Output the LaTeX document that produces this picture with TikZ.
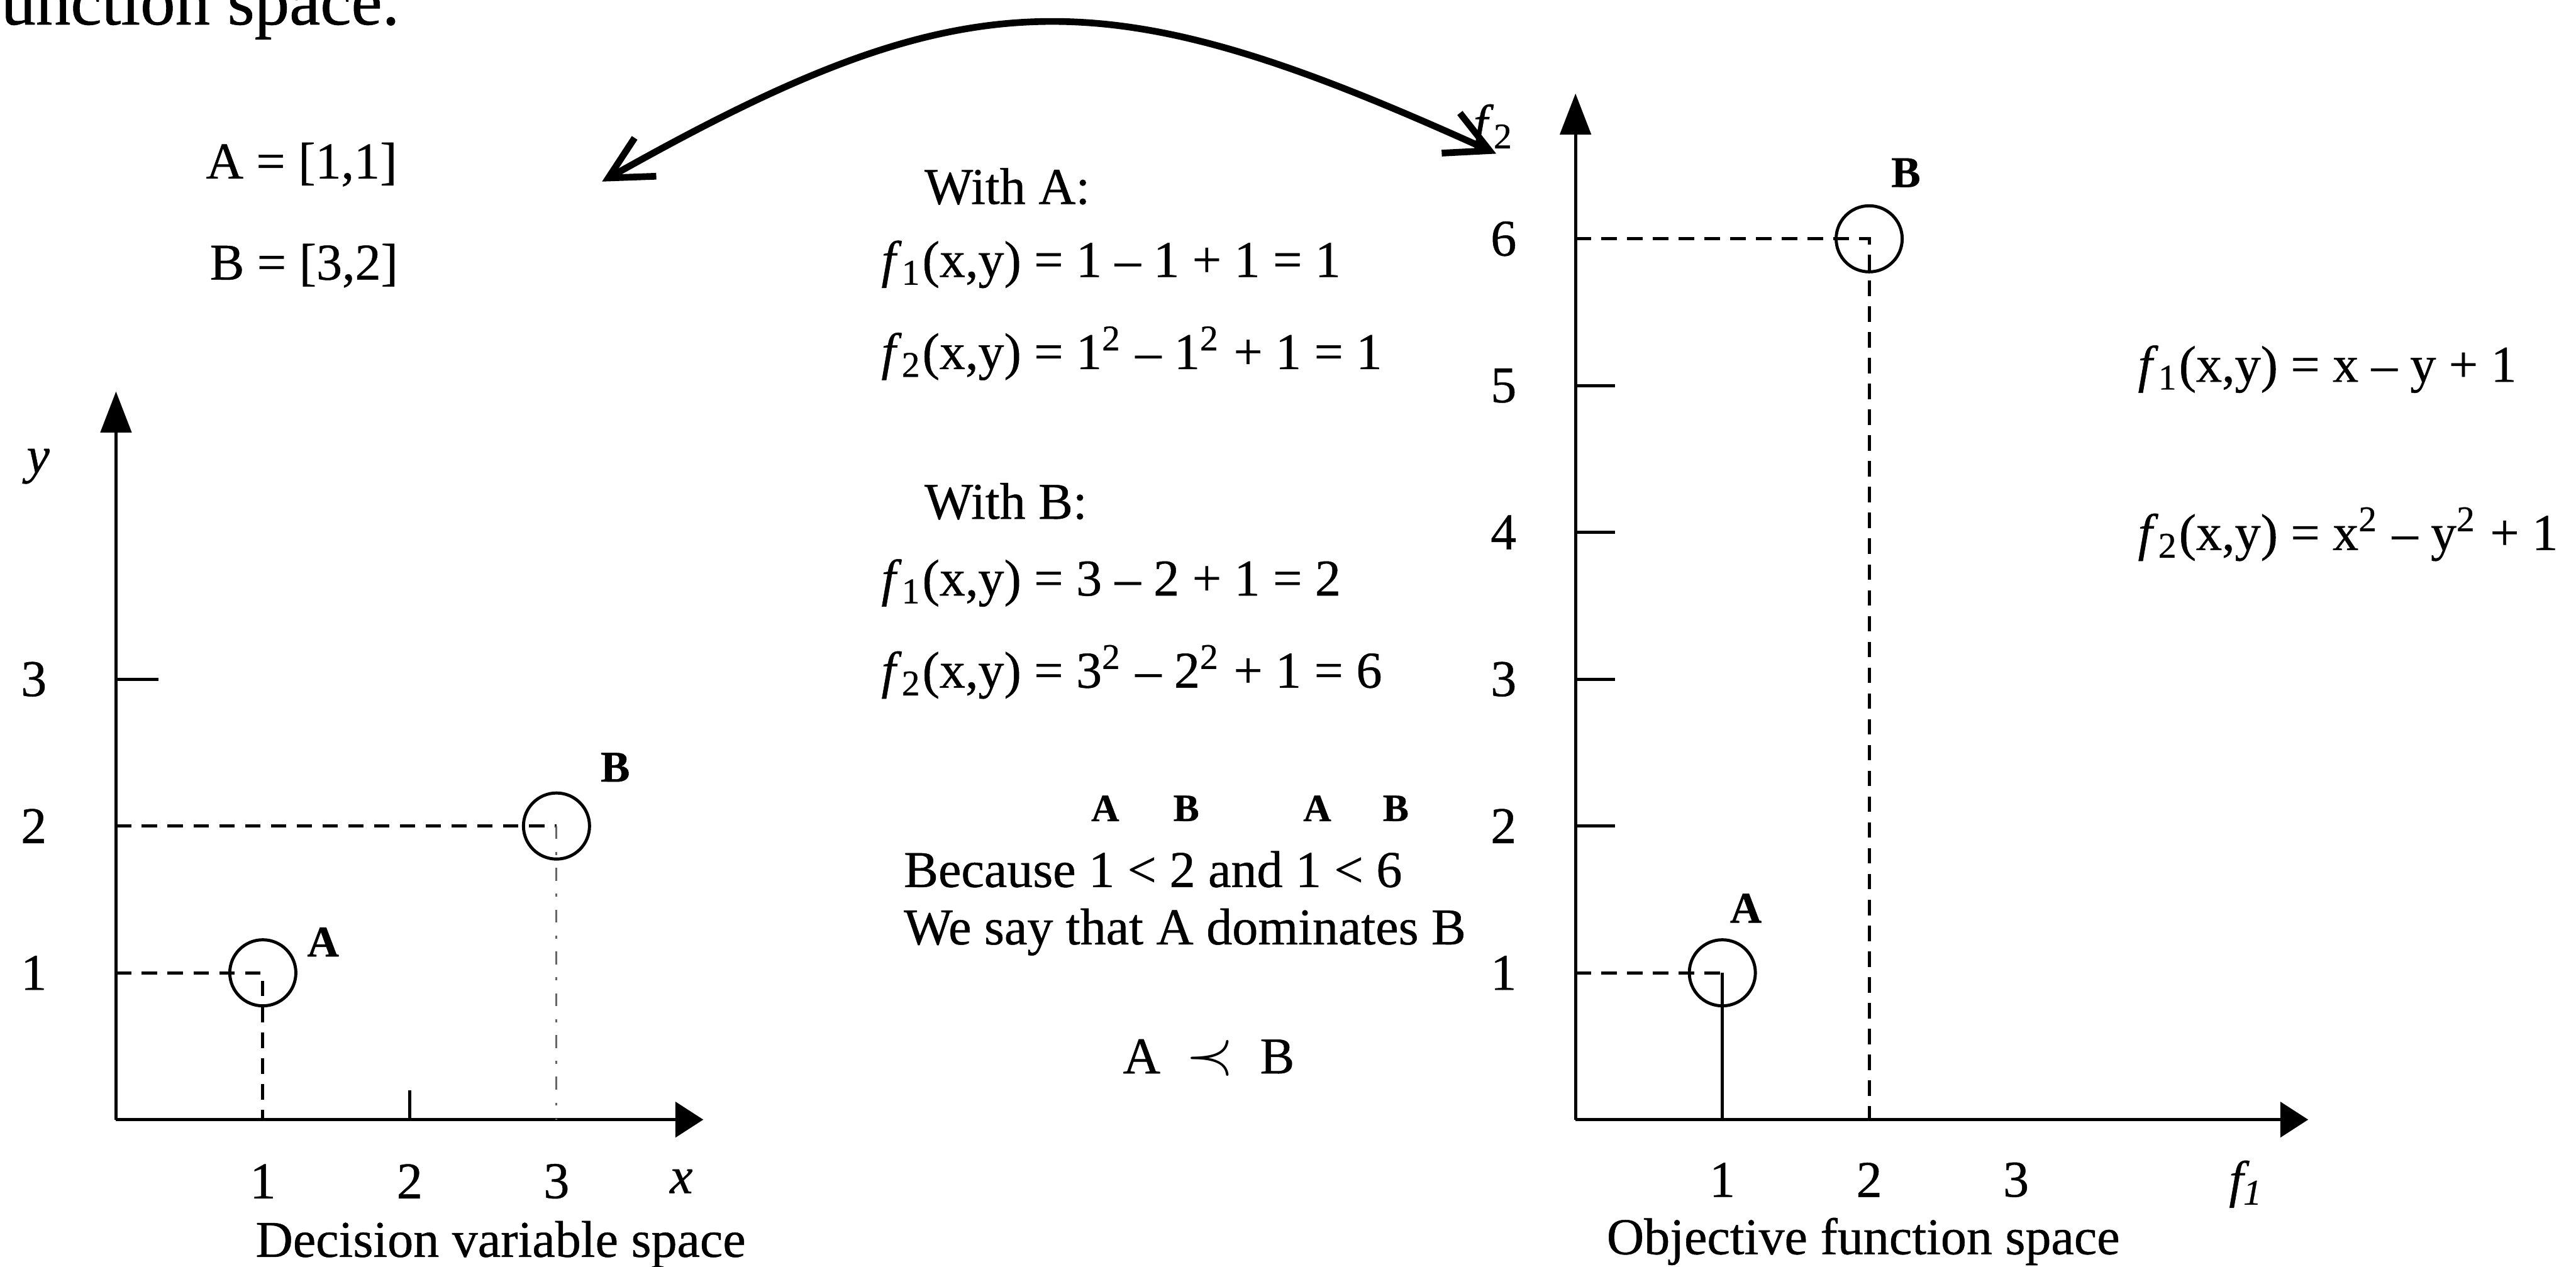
\documentclass[tikz,border=0pt]{standalone}
\usepackage{fontspec}
\setmainfont{Liberation Serif}[FakeBold=0.6]
\usetikzlibrary{arrows.meta}

\tikzset{
	yaxis/.style={line width=0.6pt,-{Triangle[length=2.8mm,width=2.1mm]}},
	xaxis/.style={line width=0.6pt,-{Triangle[length=1.9mm,width=2.4mm]}},
	tickmark/.style={line width=0.6pt},
	guide/.style={line width=0.6pt,dash pattern=on 3pt off 2pt},
	faint/.style={line width=0.35pt,black!60,dash pattern=on 2.5pt off 2.5pt on 0.6pt off 2.5pt},
	pt/.style={circle,draw,line width=0.6pt,minimum size=4.5mm,inner sep=0pt},
	ptlabel/.style={font=\bfseries\fontsize{8.5}{10}\selectfont,inner sep=0pt},
	txt/.style={anchor=west,inner sep=0pt},
	swap/.style={line width=1.3pt,{Straight Barb[length=2.9mm,width=3mm]}-{Straight Barb[length=2.9mm,width=3mm]}},
}

\begin{document}
\begin{tikzpicture}
	\useasboundingbox (0,0) rectangle (17.544,8.627);
	\node[anchor=base west,inner sep=0pt,font=\fontsize{13.5}{16}\selectfont] (head) at (0,8.46) {unction space.};
	% the two points
	\node (defA) at (2.054,7.506) {A = [1,1]};
	\node (defB) at (2.07,6.817) {B = [3,2]};
	% decision variable space
	\begin{scope}[shift={(0.79,1.0)}]
		\coordinate (o1) at (0,0);
		\draw[yaxis] (o1) -- (0,4.96);
		\draw[xaxis] (o1) -- (4.0,0);
		\draw[tickmark] (0,3) -- (0.29,3);
		\draw[tickmark] (2,0) -- (2,0.2);
		\node[pt] (dA) at (1,1) {};
		\node[pt] (dB) at (3,2) {};
		\draw[guide] (dA.center -| o1) -- (dA.center) -- (dA.center |- o1);
		\draw[guide] (dB.center -| o1) -- (dB.center);
		\draw[faint] (dB.center) -- (dB.center |- o1);
		\node[ptlabel] (dAl) at (1.41,1.21) {A};
		\node[ptlabel] (dBl) at (3.40,2.40) {B};
		\foreach \v in {1,2,3}{
			\node (dx\v) at (\v,-0.42) {\v};
			\node (dy\v) at (-0.56,\v) {\v};
		}
		\node (dxl) at (3.85,-0.42) {\textit{x}};
		\node (dyl) at (-0.53,4.45) {\textit{y}};
		\node (dcap) at (2.62,-0.85) {Decision variable space};
	\end{scope}
	% worked values
	\node[txt] (withA) at (6.289,7.357) {With A:};
	\node[txt] (fAone) at (5.996,6.826) {\textit{f}\textsubscript{1}(x,y) = 1 – 1 + 1 = 1};
	\node[txt] (fAtwo) at (5.996,6.22) {\textit{f}\textsubscript{2}(x,y) = 1\textsuperscript{2} – 1\textsuperscript{2} + 1 = 1};
	\node[txt] (withB) at (6.289,5.212) {With B:};
	\node[txt] (fBone) at (5.996,4.656) {\textit{f}\textsubscript{1}(x,y) = 3 – 2 + 1 = 2};
	\node[txt] (fBtwo) at (5.996,4.05) {\textit{f}\textsubscript{2}(x,y) = 3\textsuperscript{2} – 2\textsuperscript{2} + 1 = 6};
	\foreach \n/\x/\t in {a/7.527/A,b/8.079/B,c/8.971/A,d/9.506/B}{
		\node[font=\bfseries\fontsize{7.5}{9}\selectfont,inner sep=0pt] (over\n) at (\x,3.12) {\t};
	}
	\node[txt] (because) at (6.149,2.705) {Because 1 < 2 and 1 < 6};
	\node[txt] (wesay) at (6.149,2.278) {We say that A dominates B};
	\node (prec) at (8.232,1.423) {A \ {\large$\prec$} \ B};
	% objective functions
	\node[txt] (fone) at (14.554,6.112) {\textit{f}\textsubscript{1}(x,y) = x – y + 1};
	\node[txt] (ftwo) at (14.554,4.988) {\textit{f}\textsubscript{2}(x,y) = x\textsuperscript{2} – y\textsuperscript{2} + 1};
	% objective function space
	\begin{scope}[shift={(10.73,1.0)}]
		\coordinate (o2) at (0,0);
		\draw[yaxis] (o2) -- (0,6.99);
		\draw[xaxis] (o2) -- (4.99,0);
		\foreach \v in {2,...,5}{
			\draw[tickmark] (0,\v) -- (0.27,\v);
		}
		\node[pt] (oA) at (1,1) {};
		\node[pt] (oB) at (2,6) {};
		\draw[guide] (oA.center -| o2) -- (oA.center);
		\draw[tickmark] (oA.center) -- (oA.center |- o2);
		\draw[guide] (oB.center -| o2) -- (oB.center) -- (oB.center |- o2);
		\node[ptlabel] (oAl) at (1.16,1.44) {A};
		\node[ptlabel] (oBl) at (2.25,6.45) {B};
		\foreach \v in {1,...,6}{
			\node (oy\v) at (-0.49,\v) {\v};
		}
		\foreach \v in {1,2,3}{
			\node (ox\v) at (\v,-0.41) {\v};
		}
		\node (oxl) at (4.57,-0.44) {\textit{f\textsubscript{1}}};
		\node (oyl) at (-0.556,6.755) {\textit{f}\textsubscript{2}};
		\node (ocap) at (1.96,-0.83) {Objective function space};
	\end{scope}
	% mapping arrow
	\coordinate (arrL) at (4.10,7.39);
	\coordinate (arrR) at (10.19,7.58);
	\draw[swap] (arrL) .. controls (6.6,8.8) and (7.5,8.8) .. (arrR);
\end{tikzpicture}
\end{document}
